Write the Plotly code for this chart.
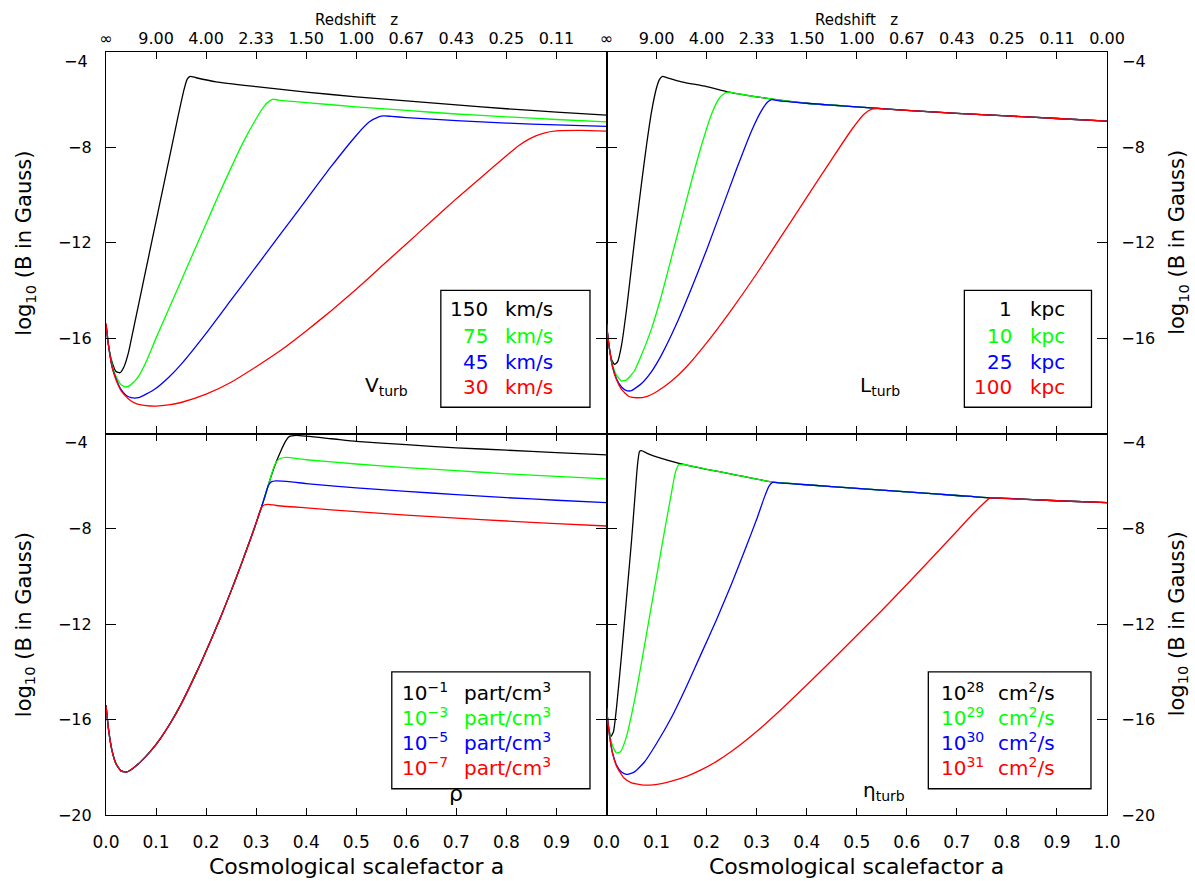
import plotly.graph_objects as go

# ---------------- data ----------------
COLORS = ["#000000", "#00ff00", "#0000ff", "#ff0000"]

# Panel 1 (top-left): V_turb
vt_labels_num = ["150", "75", "45", "30"]
vt_a = [
    [0, 0.005, 0.012, 0.02, 0.028, 0.036, 0.045, 0.055, 0.07, 0.085, 0.1, 0.115, 0.13, 0.145, 0.155, 0.162, 0.168, 0.18, 0.22, 0.3, 0.4, 0.5, 0.6, 0.7, 0.8, 0.9, 1.0],
    [0, 0.005, 0.012, 0.02, 0.03, 0.04, 0.05, 0.065, 0.08, 0.1, 0.125, 0.15, 0.175, 0.2, 0.225, 0.25, 0.275, 0.3, 0.315, 0.327, 0.335, 0.345, 0.4, 0.5, 0.6, 0.7, 0.8, 0.9, 1.0],
    [0, 0.005, 0.012, 0.02, 0.03, 0.04, 0.05, 0.065, 0.08, 0.1, 0.125, 0.15, 0.2, 0.25, 0.3, 0.35, 0.4, 0.45, 0.5, 0.525, 0.545, 0.555, 0.57, 0.6, 0.7, 0.8, 0.9, 1.0],
    [0, 0.005, 0.012, 0.02, 0.03, 0.045, 0.06, 0.08, 0.1, 0.125, 0.15, 0.2, 0.25, 0.3, 0.35, 0.4, 0.45, 0.5, 0.55, 0.6, 0.65, 0.7, 0.75, 0.8, 0.825, 0.85, 0.875, 0.9, 0.95, 1.0],
]
vt_B = [
    [-15.4, -16.3, -17.0, -17.4, -17.45, -17.2, -16.6, -15.6, -14.1, -12.6, -11.1, -9.6, -8.1, -6.6, -5.65, -5.15, -5.02, -5.08, -5.25, -5.45, -5.68, -5.88, -6.05, -6.22, -6.38, -6.52, -6.65],
    [-15.4, -16.3, -17.1, -17.6, -17.95, -18.05, -17.95, -17.6, -17.0, -16.0, -14.8, -13.6, -12.4, -11.2, -10.0, -8.85, -7.75, -6.8, -6.3, -6.05, -5.98, -6.02, -6.12, -6.3, -6.45, -6.6, -6.72, -6.83, -6.93],
    [-15.4, -16.3, -17.2, -17.7, -18.15, -18.4, -18.5, -18.5, -18.35, -18.1, -17.65, -17.1, -15.8, -14.4, -13.0, -11.6, -10.2, -8.8, -7.5, -6.95, -6.72, -6.68, -6.7, -6.75, -6.88, -6.98, -7.06, -7.12],
    [-15.4, -16.3, -17.2, -17.75, -18.2, -18.55, -18.75, -18.83, -18.85, -18.8, -18.7, -18.35, -17.85, -17.2, -16.5, -15.7, -14.85, -13.95, -13.0, -12.05, -11.1, -10.15, -9.25, -8.35, -7.92, -7.6, -7.4, -7.31, -7.29, -7.32],
]

# Panel 2 (top-right): L_turb
lt_labels_num = ["1", "10", "25", "100"]
lt_a = [
    [0, 0.004, 0.01, 0.016, 0.022, 0.03, 0.04, 0.05, 0.06, 0.07, 0.08, 0.09, 0.1, 0.106, 0.112, 0.12, 0.15, 0.2, 0.245, 0.3, 0.4, 0.5, 0.6, 0.7, 0.8, 0.9, 1.0],
    [0, 0.005, 0.012, 0.02, 0.03, 0.04, 0.055, 0.07, 0.09, 0.11, 0.13, 0.15, 0.17, 0.19, 0.21, 0.225, 0.237, 0.245, 0.26, 0.3, 0.4, 0.5, 0.6, 0.7, 0.8, 0.9, 1.0],
    [0, 0.005, 0.012, 0.02, 0.03, 0.04, 0.05, 0.07, 0.09, 0.11, 0.14, 0.17, 0.2, 0.23, 0.26, 0.29, 0.31, 0.322, 0.33, 0.345, 0.4, 0.5, 0.6, 0.7, 0.8, 0.9, 1.0],
    [0, 0.005, 0.012, 0.02, 0.03, 0.045, 0.06, 0.08, 0.1, 0.13, 0.16, 0.2, 0.25, 0.3, 0.35, 0.4, 0.45, 0.49, 0.515, 0.53, 0.54, 0.56, 0.6, 0.7, 0.8, 0.9, 1.0],
]
lt_B = [
    [-15.4, -16.2, -16.9, -17.1, -17.0, -16.3, -14.8, -13.0, -11.2, -9.5, -7.9, -6.5, -5.5, -5.15, -5.02, -5.07, -5.25, -5.45, -5.68, -5.88, -6.15, -6.3, -6.45, -6.57, -6.68, -6.79, -6.9],
    [-15.4, -16.3, -17.1, -17.55, -17.8, -17.75, -17.4, -16.7, -15.6, -14.2, -12.6, -11.0, -9.4, -7.9, -6.6, -5.95, -5.72, -5.68, -5.74, -5.88, -6.15, -6.3, -6.45, -6.57, -6.68, -6.79, -6.9],
    [-15.4, -16.3, -17.2, -17.7, -18.05, -18.2, -18.2, -17.9, -17.4, -16.7, -15.4, -13.9, -12.3, -10.6, -8.9, -7.3, -6.45, -6.1, -6.0, -6.05, -6.15, -6.3, -6.45, -6.57, -6.68, -6.79, -6.9],
    [-15.4, -16.3, -17.2, -17.75, -18.15, -18.45, -18.5, -18.45, -18.25, -17.8, -17.2, -16.2, -14.8, -13.3, -11.7, -10.1, -8.5, -7.25, -6.6, -6.4, -6.37, -6.4, -6.45, -6.57, -6.68, -6.79, -6.9],
]

# Panel 3 (bottom-left): density rho (curves share the rise until they saturate)
rho_exp = ["−1", "−3", "−5", "−7"]
rise_a = [0, 0.005, 0.012, 0.02, 0.03, 0.04, 0.05, 0.07, 0.09, 0.11, 0.13, 0.15, 0.17, 0.19, 0.21, 0.23, 0.25, 0.27, 0.29, 0.3, 0.31]
rise_B = [-15.4, -16.4, -17.3, -17.85, -18.15, -18.2, -18.1, -17.75, -17.3, -16.75, -16.1, -15.35, -14.5, -13.6, -12.65, -11.65, -10.6, -9.5, -8.35, -7.75, -7.13]
rho_tail_a = [
    [0.318, 0.326, 0.333, 0.34, 0.35, 0.358, 0.366, 0.38, 0.45, 0.5, 0.6, 0.7, 0.8, 0.9, 1.0],
    [0.318, 0.326, 0.333, 0.34, 0.348, 0.36, 0.4, 0.5, 0.6, 0.7, 0.8, 0.9, 1.0],
    [0.318, 0.324, 0.33, 0.34, 0.37, 0.4, 0.5, 0.6, 0.7, 0.8, 0.9, 1.0],
    [0.316, 0.324, 0.34, 0.4, 0.5, 0.6, 0.7, 0.8, 0.9, 1.0],
]
rho_tail_B = [
    [-6.6, -6.05, -5.6, -5.2, -4.7, -4.35, -4.13, -4.08, -4.22, -4.33, -4.47, -4.6, -4.7, -4.8, -4.9],
    [-6.6, -6.05, -5.55, -5.2, -5.05, -5.0, -5.1, -5.28, -5.43, -5.56, -5.69, -5.8, -5.9],
    [-6.6, -6.2, -6.03, -5.99, -6.03, -6.1, -6.28, -6.43, -6.56, -6.69, -6.8, -6.9],
    [-7.0, -6.97, -7.02, -7.12, -7.28, -7.42, -7.55, -7.67, -7.78, -7.88],
]

# Panel 4 (bottom-right): eta_turb
eta_exp = ["28", "29", "30", "31"]
eta_a = [
    [0, 0.004, 0.009, 0.014, 0.02, 0.03, 0.04, 0.05, 0.057, 0.062, 0.066, 0.07, 0.08, 0.1, 0.145, 0.2, 0.25, 0.33, 0.4, 0.5, 0.6, 0.7, 0.765, 0.8, 0.9, 1.0],
    [0, 0.005, 0.012, 0.02, 0.028, 0.04, 0.055, 0.07, 0.085, 0.1, 0.115, 0.128, 0.138, 0.145, 0.155, 0.2, 0.25, 0.33, 0.4, 0.5, 0.6, 0.7, 0.765, 0.8, 0.9, 1.0],
    [0, 0.005, 0.012, 0.02, 0.03, 0.04, 0.055, 0.075, 0.1, 0.13, 0.16, 0.19, 0.22, 0.25, 0.28, 0.3, 0.315, 0.325, 0.332, 0.345, 0.4, 0.5, 0.6, 0.7, 0.765, 0.8, 0.9, 1.0],
    [0, 0.005, 0.012, 0.02, 0.035, 0.05, 0.08, 0.11, 0.13, 0.16, 0.19, 0.22, 0.25, 0.3, 0.35, 0.4, 0.45, 0.5, 0.55, 0.6, 0.65, 0.7, 0.73, 0.75, 0.765, 0.775, 0.8, 0.9, 1.0],
]
eta_B = [
    [-15.5, -16.3, -16.7, -16.5, -15.5, -13.3, -10.9, -8.5, -6.6, -5.3, -4.75, -4.72, -4.82, -4.98, -5.25, -5.5, -5.7, -6.03, -6.15, -6.3, -6.45, -6.6, -6.7, -6.72, -6.82, -6.9],
    [-15.5, -16.4, -17.1, -17.4, -17.35, -16.7, -15.3, -13.6, -11.8, -10.0, -8.2, -6.7, -5.6, -5.3, -5.3, -5.5, -5.7, -6.03, -6.15, -6.3, -6.45, -6.6, -6.7, -6.72, -6.82, -6.9],
    [-15.5, -16.5, -17.4, -17.9, -18.2, -18.3, -18.2, -17.8, -17.0, -15.9, -14.6, -13.2, -11.8, -10.3, -8.7, -7.6, -6.7, -6.2, -6.05, -6.07, -6.15, -6.3, -6.45, -6.6, -6.7, -6.72, -6.82, -6.9],
    [-15.5, -16.5, -17.4, -17.95, -18.45, -18.65, -18.75, -18.68, -18.58, -18.38, -18.1, -17.75, -17.33, -16.5, -15.55, -14.55, -13.52, -12.47, -11.42, -10.33, -9.22, -8.1, -7.42, -7.0, -6.72, -6.7, -6.73, -6.82, -6.9],
]

# Axis ticks
a_ticks = [0.0, 0.1, 0.2, 0.3, 0.4, 0.5, 0.6, 0.7, 0.8, 0.9, 1.0]
a_ticktext = ["0.0", "0.1", "0.2", "0.3", "0.4", "0.5", "0.6", "0.7", "0.8", "0.9", "1.0"]
z_ticktext = ["∞", "9.00", "4.00", "2.33", "1.50", "1.00", "0.67", "0.43", "0.25", "0.11", "0.00"]
y_ticks = [-20, -16, -12, -8, -4]
y_ticktext = ["−20", "−16", "−12", "−8", "−4"]

FONT = "DejaVu Sans"

# ---------------- figure ----------------
fig = go.Figure()

rho_a = [rise_a + t for t in rho_tail_a]
rho_B = [rise_B + t for t in rho_tail_B]

panels = [
    ("x3", "y3", vt_a, vt_B),
    ("x4", "y4", lt_a, lt_B),
    ("x", "y", rho_a, rho_B),
    ("x2", "y2", eta_a, eta_B),
]
for xa, ya, A, B in panels:
    for i in range(4):
        fig.add_trace(go.Scatter(
            x=A[i], y=B[i], mode="lines", xaxis=xa, yaxis=ya,
            line=dict(color=COLORS[i], width=1.3, shape="spline", smoothing=0.5),
            showlegend=False, hoverinfo="skip"))

common_axis = dict(showline=True, linecolor="black", linewidth=1.3, mirror="ticks",
                   ticks="inside", tickcolor="black", tickwidth=1.1,
                   showgrid=False, zeroline=False, automargin=False)

def xaxis(domain, anchor, side, ticktext, fontsize, standoff):
    return dict(common_axis, domain=domain, anchor=anchor, side=side, range=[0, 1],
                tickmode="array", tickvals=a_ticks, ticktext=ticktext, ticklen=7,
                tickfont=dict(family=FONT, size=fontsize, color="black"),
                ticklabelstandoff=standoff)

def yaxis(domain, anchor, side, ticktext):
    return dict(common_axis, domain=domain, anchor=anchor, side=side, range=[-20, -4],
                tickmode="array", tickvals=y_ticks, ticktext=ticktext, ticklen=10,
                tickfont=dict(family=FONT, size=16, color="black"),
                ticklabelstandoff=10)

bl_xt = a_ticktext[:-1] + [""]
top_left_zt = z_ticktext[:-1] + [""]
yt_top = [""] + y_ticktext[1:-1] + [""]
yt_bot = y_ticktext[:-1] + [""]

fig.update_layout(
    width=1195, height=881,
    margin=dict(l=106, r=88, t=52, b=66),
    paper_bgcolor="white", plot_bgcolor="white",
    font=dict(family=FONT, color="black"),
    xaxis=xaxis([0, 0.5], "y", "bottom", bl_xt, 17, 11),
    yaxis=yaxis([0, 0.5], "x", "left", yt_bot),
    xaxis2=xaxis([0.5, 1], "y2", "bottom", a_ticktext, 17, 11),
    yaxis2=yaxis([0, 0.5], "x2", "right", yt_bot),
    xaxis3=xaxis([0, 0.5], "y3", "top", top_left_zt, 16, 0),
    yaxis3=yaxis([0.5, 1], "x3", "left", yt_top),
    xaxis4=xaxis([0.5, 1], "y4", "top", z_ticktext, 16, 0),
    yaxis4=yaxis([0.5, 1], "x4", "right", yt_top),
)

ann = []
shapes = []

# "-4" labels at the top of each panel (drawn slightly below the top edge, as in the reference)
for xa, ya, side in [("x", "y", "left"), ("x2", "y2", "right"), ("x3", "y3", "left"), ("x4", "y4", "right")]:
    ann.append(dict(xref=f"{xa} domain", yref=ya, x=0 if side == "left" else 1, y=-4,
                    xanchor="right" if side == "left" else "left",
                    xshift=-16 if side == "left" else 13, yshift=-9,
                    text="−4", showarrow=False, font=dict(family=FONT, size=16)))

# axis titles
ytitle = "log<sub>10</sub> (B in Gauss)"
for yc in [0.25, 0.75]:
    ann.append(dict(xref="paper", yref="paper", x=-0.081, y=yc, text=ytitle, textangle=-90,
                    showarrow=False, xanchor="center", yanchor="middle", font=dict(family=FONT, size=21)))
    ann.append(dict(xref="paper", yref="paper", x=1.071, y=yc, text=ytitle, textangle=-90,
                    showarrow=False, xanchor="center", yanchor="middle", font=dict(family=FONT, size=21)))
for xc in [0.25, 0.75]:
    ann.append(dict(xref="paper", yref="paper", x=xc, y=-0.068, text="Cosmological scalefactor a",
                    showarrow=False, xanchor="center", yanchor="middle", font=dict(family=FONT, size=22)))
    ann.append(dict(xref="paper", yref="paper", x=xc, y=1.042, text="Redshift   z",
                    showarrow=False, xanchor="center", yanchor="middle", font=dict(family=FONT, size=15)))

# panel labels
ann.append(dict(xref="x3", yref="y3", x=0.56, y=-18.0, text="V<sub>turb</sub>", showarrow=False,
                font=dict(family=FONT, size=20)))
ann.append(dict(xref="x4", yref="y4", x=0.547, y=-18.0, text="L<sub>turb</sub>", showarrow=False,
                font=dict(family=FONT, size=20)))
ann.append(dict(xref="x", yref="y", x=0.699, y=-19.1, text="ρ", showarrow=False,
                font=dict(family=FONT, size=22)))
ann.append(dict(xref="x2", yref="y2", x=0.555, y=-19.0, text="η<sub>turb</sub>", showarrow=False,
                font=dict(family=FONT, size=20)))

# legend boxes
box_specs = [("x3", "y3", 0.669, 0.967), ("x4", "y4", 0.715, 0.969),
             ("x", "y", 0.571, 0.967), ("x2", "y2", 0.643, 0.968)]
for xa, ya, x0, x1 in box_specs:
    shapes.append(dict(type="rect", xref=xa, yref=ya, x0=x0, x1=x1, y0=-18.9, y1=-14.0,
                       line=dict(color="black", width=1.3), fillcolor="rgba(0,0,0,0)"))

line_y_top = [-14.79, -15.9, -16.99, -18.07]
line_y_bot = [-14.86, -15.9, -16.95, -17.99]
LF = 20
for i in range(4):
    c = COLORS[i]
    ann.append(dict(xref="x3", yref="y3", x=0.767, y=line_y_top[i], text=vt_labels_num[i], xanchor="right",
                    showarrow=False, font=dict(family=FONT, size=LF, color=c)))
    ann.append(dict(xref="x3", yref="y3", x=0.794, y=line_y_top[i], text="km/s", xanchor="left",
                    showarrow=False, font=dict(family=FONT, size=LF, color=c)))
    ann.append(dict(xref="x4", yref="y4", x=0.815, y=line_y_top[i], text=lt_labels_num[i], xanchor="right",
                    showarrow=False, font=dict(family=FONT, size=LF, color=c)))
    ann.append(dict(xref="x4", yref="y4", x=0.843, y=line_y_top[i], text="kpc", xanchor="left",
                    showarrow=False, font=dict(family=FONT, size=LF, color=c)))
    ann.append(dict(xref="x", yref="y", x=0.587, y=line_y_bot[i], text=f"10<sup>{rho_exp[i]}</sup>",
                    xanchor="left", showarrow=False, font=dict(family=FONT, size=LF, color=c)))
    ann.append(dict(xref="x", yref="y", x=0.711, y=line_y_bot[i], text="part/cm<sup>3</sup>",
                    xanchor="left", showarrow=False, font=dict(family=FONT, size=LF, color=c)))
    ann.append(dict(xref="x2", yref="y2", x=0.664, y=line_y_bot[i], text=f"10<sup>{eta_exp[i]}</sup>",
                    xanchor="left", showarrow=False, font=dict(family=FONT, size=LF, color=c)))
    ann.append(dict(xref="x2", yref="y2", x=0.778, y=line_y_bot[i], text="cm<sup>2</sup>/s",
                    xanchor="left", showarrow=False, font=dict(family=FONT, size=LF, color=c)))

fig.update_layout(annotations=ann, shapes=shapes)

fig.write_html("out.html", config={"displayModeBar": False},
               post_script="document.body.style.margin='0';document.body.style.padding='0';")
